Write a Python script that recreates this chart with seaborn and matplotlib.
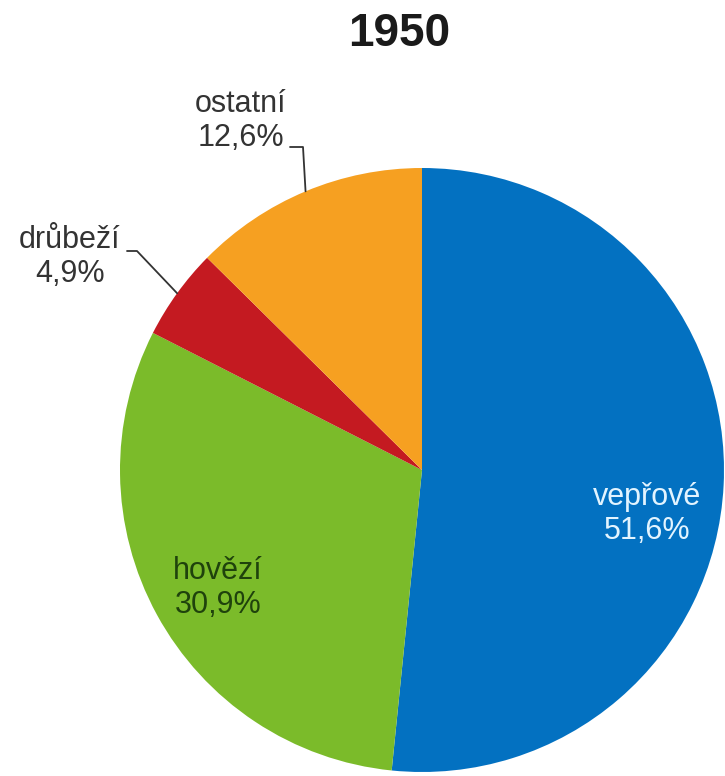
import numpy as np
import matplotlib
matplotlib.use("Agg")
import matplotlib.pyplot as plt
import seaborn as sns

title = "1950"
categories = ["vepřové", "hovězí", "drůbeží", "ostatní"]
values = [51.6, 30.9, 4.9, 12.6]
value_labels = ["51,6%", "30,9%", "4,9%", "12,6%"]
colors = ["#0371c1", "#7bbb2a", "#c41a21", "#f6a021"]

sns.set_theme(style="white")
plt.rcParams["font.family"] = ["Liberation Sans", "DejaVu Sans"]

W, H = 725, 776
fig = plt.figure(figsize=(W / 100, H / 100), dpi=100)
cx, cy, R = 422, 470, 302
ax = fig.add_axes([(cx - R) / W, (H - cy - R) / H, 2 * R / W, 2 * R / H])

wedges, _ = ax.pie(values, colors=colors, startangle=90, counterclock=False,
                   radius=1.0, wedgeprops=dict(linewidth=0))
ax.set_xlim(-1, 1)
ax.set_ylim(-1, 1)
ax.set_aspect("equal")
ax.axis("off")


def px(x, y):
    return (x - cx) / R, (cy - y) / R


def mid_point(w):
    a = np.deg2rad((w.theta1 + w.theta2) / 2)
    return np.cos(a), np.sin(a)


dark = "#333333"
fs = 22

# inside labels
x, y = px(647, 514)
ax.text(x, y, f"{categories[0]}\n{value_labels[0]}", ha="center", va="center",
        fontsize=fs, color="#e2f4ff", linespacing=1.15)
x, y = px(218, 588)
ax.text(x, y, f"{categories[1]}\n{value_labels[1]}", ha="center", va="center",
        fontsize=fs, color="#1f420c", linespacing=1.15)

# outside labels
x, y = px(70, 257)
ax.text(x, y, f"{categories[2]}\n{value_labels[2]}", ha="center", va="center",
        fontsize=fs, color=dark, linespacing=1.15)
x, y = px(241, 121)
ax.text(x, y, f"{categories[3]}\n{value_labels[3]}", ha="center", va="center",
        fontsize=fs, color=dark, linespacing=1.15)

# leader lines
mx, my = mid_point(wedges[2])
p1, p2 = px(127, 251), px(137, 251)
ax.plot([p1[0], p2[0], mx], [p1[1], p2[1], my], color=dark, lw=1.3, clip_on=False)
mx, my = mid_point(wedges[3])
p1, p2 = px(290, 147), px(303, 147)
ax.plot([p1[0], p2[0], mx], [p1[1], p2[1], my], color=dark, lw=1.3, clip_on=False)

fig.text(399 / W, 1 - 34 / H, title, ha="center", va="center", fontsize=33,
         fontweight="bold", color="#1a1a1a")

fig.savefig("out.png", dpi=100)
